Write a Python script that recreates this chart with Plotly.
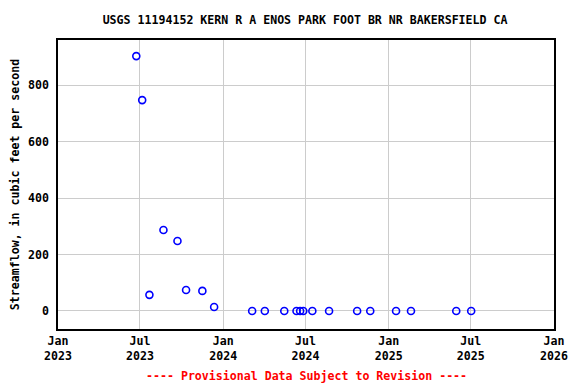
import plotly.graph_objects as go

dates = ["2023-06-23", "2023-07-06", "2023-07-22", "2023-08-22", "2023-09-22",
         "2023-10-11", "2023-11-16", "2023-12-12",
         "2024-03-05", "2024-04-02", "2024-05-15", "2024-06-11", "2024-06-19",
         "2024-06-26", "2024-07-16", "2024-08-22", "2024-10-23", "2024-11-21",
         "2025-01-17", "2025-02-19", "2025-05-30", "2025-07-02"]
flow = [903, 747, 57, 287, 248, 74, 71, 14,
        0, 0, 0, 0, 0, 0, 0, 0, 0, 0, 0, 0, 0, 0]

xtick_vals = ["2023-01-01", "2023-07-01", "2024-01-01", "2024-07-01",
              "2025-01-01", "2025-07-01", "2026-01-01"]
xtick_text = ["Jan<br>2023", "Jul<br>2023", "Jan<br>2024", "Jul<br>2024",
              "Jan<br>2025", "Jul<br>2025", "Jan<br>2026"]
ytick_vals = [0, 200, 400, 600, 800]

font_family = "DejaVu Sans Mono"
fs = 11.6

fig = go.Figure()
fig.add_trace(go.Scatter(
    x=dates, y=flow, mode="markers",
    marker=dict(symbol="circle-open", size=7, color="#0000ff",
                line=dict(width=1.6, color="#0000ff")),
    showlegend=False,
))

fig.update_layout(
    width=568, height=376,
    margin=dict(l=50, r=22, t=32, b=55),
    paper_bgcolor="white", plot_bgcolor="white",
    font=dict(family=font_family, size=fs, color="black", weight="bold"),
    title=dict(text="USGS 11194152 KERN R A ENOS PARK FOOT BR NR BAKERSFIELD CA",
               x=0.523, xanchor="center", y=0.968, yanchor="middle",
               font=dict(family=font_family, size=fs, color="black", weight="bold")),
    xaxis=dict(
        type="date", range=["2023-01-01", "2026-01-01"],
        tickvals=xtick_vals, ticktext=xtick_text,
        showgrid=True, gridcolor="#cccccc", gridwidth=1,
        showline=True, linecolor="black", linewidth=1.5, mirror=True,
        ticks="", zeroline=False, automargin=False,
        tickfont=dict(family=font_family, size=fs, color="black", weight="bold"),
    ),
    yaxis=dict(
        range=[-64, 960], tickvals=ytick_vals,
        showgrid=True, gridcolor="#cccccc", gridwidth=1,
        showline=True, linecolor="black", linewidth=1.5, mirror=True,
        ticks="outside", ticklen=5, tickcolor="rgba(0,0,0,0)", zeroline=False,
        automargin=False,
        title=dict(text="Streamflow, in cubic feet per second", standoff=10,
                   font=dict(family=font_family, size=fs, color="black", weight="bold")),
        tickfont=dict(family=font_family, size=fs, color="black", weight="bold"),
    ),
)

fig.add_annotation(
    text="---- Provisional Data Subject to Revision ----",
    xref="paper", yref="paper", x=0.5, y=-0.162, xanchor="center", yanchor="middle",
    showarrow=False,
    font=dict(family=font_family, size=fs, color="red", weight="bold"),
)

fig.write_html("out.html")
